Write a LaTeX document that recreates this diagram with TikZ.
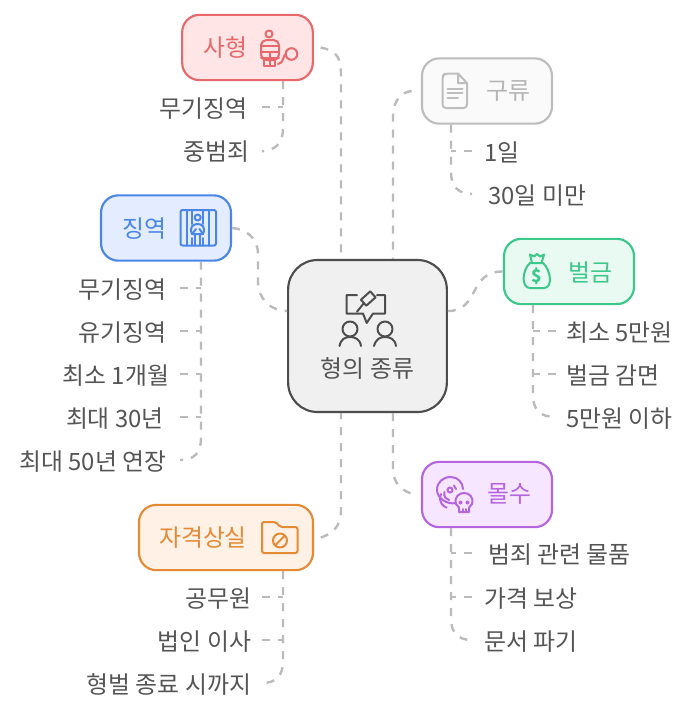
\documentclass[tikz,border=0pt]{standalone}
\usepackage{fontspec}
\setmainfont{Noto Sans CJK KR}
\definecolor{conn}{HTML}{BBBBBB}
\definecolor{txt}{HTML}{555555}
\definecolor{rs}{HTML}{E8686B}\definecolor{rf}{HTML}{FFE5E5}
\definecolor{bs}{HTML}{4A86E8}\definecolor{bf}{HTML}{E3EDFF}
\definecolor{gs}{HTML}{BDBDBD}\definecolor{gf}{HTML}{FAFAFA}\definecolor{gt}{HTML}{B5B5B5}
\definecolor{ns}{HTML}{3CC88A}\definecolor{nf}{HTML}{E8FAF2}
\definecolor{ps}{HTML}{B565E0}\definecolor{pf}{HTML}{F7E6FF}
\definecolor{os}{HTML}{E58A35}\definecolor{of}{HTML}{FFF1E5}
\definecolor{cs}{HTML}{4D4D4D}\definecolor{cf}{HTML}{F0F0F0}
\tikzset{
 boxn/.style={draw=#1,line width=1.6pt,rounded corners=13pt,minimum height=49pt,anchor=center,inner sep=0pt},
 link/.style={draw=conn,line width=1.8pt,dash pattern=on 6pt off 6pt},
 lab/.style={font=\fontsize{17.9pt}{20pt}\selectfont,inner sep=0pt,yshift=-1pt},
 leafl/.style={lab,text=txt,anchor=east,inner ysep=0pt,inner xsep=#1},
 leafl/.default=8pt,
 leafr/.style={lab,text=txt,anchor=west,inner ysep=0pt,inner xsep=#1},
 leafr/.default=8.5pt,
 ico/.style={line width=1.5pt,line cap=round,line join=round}
}
\begin{document}
\begin{tikzpicture}[x=0.75pt,y=-0.75pt]
\useasboundingbox[fill=white] (0,0) rectangle (692,715);
% boxes
\node[boxn=cs,fill=cf,minimum width=119pt,minimum height=114pt,rounded corners=22pt] (c) at (367.5,336) {};
\node[boxn=rs,fill=rf,minimum width=98pt] (sa) at (247.5,47.5) {};
\node[boxn=gs,fill=gf,minimum width=97.5pt] (gu) at (487,91) {};
\node[boxn=bs,fill=bf,minimum width=97.5pt] (ji) at (166,228) {};
\node[boxn=ns,fill=nf,minimum width=97.5pt] (be) at (569,271.5) {};
\node[boxn=ps,fill=pf,minimum width=97.5pt] (mo) at (487,494.5) {};
\node[boxn=os,fill=of,minimum width=130.5pt] (ja) at (226,537.5) {};
% titles
\node[lab,text=rs] (t1) at (225,46) {사형};
\node[lab,text=gt] (t2) at (508,90) {구류};
\node[lab,text=bs] (t3) at (144,227) {징역};
\node[lab,text=ns] (t4) at (590,271) {벌금};
\node[lab,text=ps] (t5) at (509,493) {몰수};
\node[lab,text=os] (t6) at (203,536) {자격상실};
\node[lab,text=txt] (t0) at (367.5,367) {형의 종류};
% leaves
\node[leafl=11pt] (a1) at (262,107) {무기징역};
\node[leafl=9pt] (a2) at (262,150) {중범죄};
\node[leafr=9pt] (b1) at (472,151) {1일};
\node[leafr=12pt] (b2) at (472,194) {30일 미만};
\node[leafl=10pt] (j1) at (180,288) {무기징역};
\node[leafl=10pt] (j2) at (180,331) {유기징역};
\node[leafl=8pt] (j3) at (180,374) {최소 1개월};
\node[leafl=12pt] (j4) at (180,417) {최대 30년};
\node[leafl=10pt] (j5) at (180,460) {최대 50년 연장};
\node[leafr=7.5pt] (m1) at (556,331) {최소 5만원};
\node[leafr=7.5pt] (m2) at (556,374) {벌금 감면};
\node[leafr=7.5pt] (m3) at (556,417) {5만원 이하};
\node[leafr=12pt] (p1) at (472,553) {범죄 관련 물품};
\node[leafr=9pt] (p2) at (472,597) {가격 보상};
\node[leafr=9pt] (p3) at (472,640) {문서 파기};
\node[leafl] (o1) at (262,597) {공무원};
\node[leafl] (o2) at (262,640) {법인 이사};
\node[leafl] (o3) at (262,683) {형벌 종료 시까지};
% connectors to centre
\draw[link] ([xshift=5pt]sa.east) .. controls +(14,3) and (341,55) .. (341,74) -- (c.north -| 341,0);
\draw[link] ([xshift=-7pt]gu.west) .. controls (402,92) and (393,100) .. (393,116) -- (c.north -| 393,0);
\draw[link] (ji.east) .. controls (246,229) and (258,238) .. (258,254) -- (258,282) .. controls (258,298) and (270,311) .. (c.west |- 0,311);
\draw[link] (c.east |- 0,311) .. controls (480,311) and (468,271) .. (be.west);
\draw[link] ([xshift=5pt]ja.east) .. controls (332,534) and (341,527) .. (341,510) -- (c.south -| 341,0);
\draw[link] (c.south -| 393,0) -- (393,468) .. controls (393,484) and (402,491) .. ([xshift=-5pt]mo.west);
% trunks
\draw[link] (sa.south -| 283,0) -- (283,128) .. controls (283,143) and (276,150) .. (a2.east);
\draw[link] (a1.east |- 0,107) -- (283,107);
\draw[link] (gu.south -| 451,0) -- (451,172) .. controls (451,186) and (458,194) .. (b2.west |- 0,194);
\draw[link] (b1.west |- 0,151) -- (451,151);
\draw[link] (ji.south -| 201,0) -- (201,438) .. controls (201,453) and (194,460) .. (j5.east |- 0,460);
\foreach \n/\y in {j1/288,j2/331,j3/374,j4/417} \draw[link] (\n.east |- 0,\y) -- (201,\y);
\draw[link] (be.south -| 533,0) -- (533,395) .. controls (533,410) and (540,417) .. (m3.west |- 0,417);
\foreach \n/\y in {m1/331,m2/374} \draw[link] (\n.west |- 0,\y) -- (533,\y);
\draw[link] (mo.south -| 451,0) -- (451,618) .. controls (451,633) and (458,640) .. (p3.west |- 0,640);
\foreach \n/\y in {p1/553,p2/597} \draw[link] (\n.west |- 0,\y) -- (451,\y);
\draw[link] (ja.south -| 283,0) -- (283,661) .. controls (283,676) and (276,683) .. (o3.east |- 0,683);
\foreach \n/\y in {o1/597,o2/640} \draw[link] (\n.east |- 0,\y) -- (283,\y);
% centre icon
\begin{scope}[ico,draw=cs]
\draw (357,295) -- (346.7,295) -- (346.7,313.5) -- (363,313.5) -- (366.7,323) -- (373,313.5) -- (385,313.5) -- (385,295) -- (377,295);
\draw[rotate around={42:(368.3,298.5)}] (362,294.5) rectangle (374.5,302.5);
\draw (364,303) -- (357,311.7);
\draw (350,329) circle (7.5);
\draw (385,329) circle (7.5);
\draw (339.5,346) .. controls (341,339) and (345,337) .. (350,337) .. controls (355,337) and (360,339) .. (361,346);
\draw (374,346) .. controls (376,339) and (380,337) .. (385,337) .. controls (390,337) and (395,339) .. (396,346);
\end{scope}
% sa icon
\begin{scope}[ico,draw=rs]
\draw (269,34) circle (3.5);
\draw[rounded corners=4pt] (261,40) rectangle (279,60);
\draw (264,60) -- (264,65.5) -- (275,65.5) -- (275,60);
\foreach \y in {46,52,58} \draw (261,\y) -- (279,\y);
\draw (269.5,52) -- (269.5,65.5);
\draw (278,64) .. controls (284,64) and (283,54) .. (286,54);
\draw (291.5,54) circle (5.8);
\end{scope}
% ji icon
\begin{scope}[ico,draw=bs]
\draw[rounded corners=1.5pt] (180.5,210) rectangle (216,245.5);
\foreach \x in {186.7,209.3} \draw (\x,210) -- (\x,245.5);
\draw (192,210) -- (192,224) (203,210) -- (203,224) (192,238) -- (192,245.5) (203,238) -- (203,245.5);
\draw (197.7,217.5) circle (3);
\draw (192,234) .. controls (189,227) and (193,224) .. (197.7,224) .. controls (202,224) and (206,227) .. (203,234);
\draw (192,234) -- (196,229) (203,234) -- (199.5,229) (192,234) -- (203,234);
\draw (195,234) -- (195,245.5) (200,234) -- (200,245.5);
\end{scope}
% gu icon
\begin{scope}[ico,draw=gs]
\draw[rounded corners=2.5pt] (458,73.5) -- (445,73.5) -- (442.5,76) -- (442.5,108) -- (467,108) -- (467,83);
\draw (458,73.5) -- (467,83) -- (458,83) -- cycle;
\draw (447.5,88.5) -- (462.5,88.5) (447.5,93) -- (462.5,93) (447.5,97.5) -- (458,97.5);
\end{scope}
% be icon
\begin{scope}[ico,draw=ns]
\draw (530,263) -- (543,263) .. controls (551,270) and (553,288) .. (544,288) -- (530,288) .. controls (521,288) and (522,270) .. (530,263) -- cycle;
\draw (532,263) -- (530,254.5) -- (534,256.5) -- (537,254) -- (540,256.5) -- (544,254.5) -- (541.5,263);
\node[text=ns,inner sep=0pt,font=\fontsize{13pt}{14pt}\bfseries\selectfont] (dl) at (537,276) {\$};
\end{scope}
% mo icon
\begin{scope}[ico,draw=ps]
\draw (456,503) .. controls (447,505) and (437,498) .. (437,490) .. controls (437,482) and (443,477) .. (451,477) .. controls (458,477) and (463,483) .. (463,489);
\draw (450,490) circle (2.5);
\draw (444.5,492) arc[start angle=200,end angle=100,radius=6];
\draw (441,494) arc[start angle=205,end angle=110,radius=10];
\draw (456,489) arc[start angle=-10,end angle=-50,radius=6] ;
\draw[fill=pf] (456,504) .. controls (454,497) and (459,493) .. (464,493) .. controls (469,493) and (474,497) .. (472,504) -- (469,507.5) -- (469,512) -- (459,512) -- (459,507.5) -- cycle;
\fill[ps] (460.5,502.5) circle (2) (467.5,502.5) circle (2);
\draw (462.5,509) -- (462.5,512) (465.5,509) -- (465.5,512);
\end{scope}
% ja icon
\begin{scope}[ico,draw=os]
\draw[rounded corners=1.5pt] (262,522) -- (276,522) -- (280,527) -- (297.5,527) -- (297.5,553) -- (262,553) -- cycle;
\draw (280,540.5) circle (7);
\draw (275.5,545) -- (284.5,536);
\end{scope}
\end{tikzpicture}
\end{document}
